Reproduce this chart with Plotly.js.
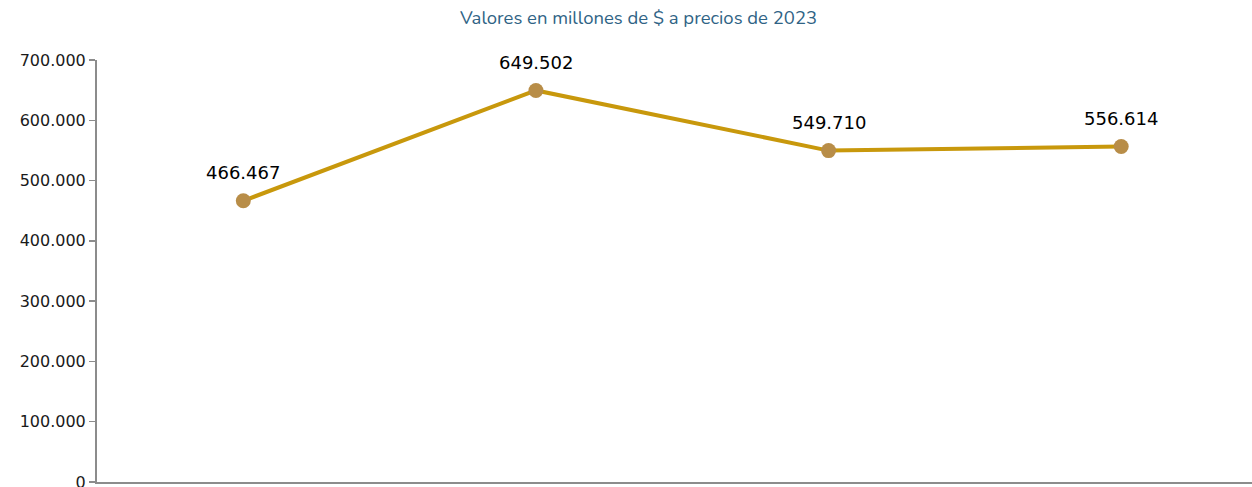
<!DOCTYPE html>
<html>
<head>
<meta charset="utf-8">
<script src="https://cdn.plot.ly/plotly-3.0.1.min.js"></script>
<style>
  html, body { margin: 0; padding: 0; background: #fff; }
  #chart { width: 1252px; height: 487px; }
</style>
</head>
<body>
<div id="chart"></div>
<script>
// categories are not legible in the reference (cut off below the axis)
const periods = ['P1', 'P2', 'P3', 'P4'];
const valores = [466467, 649502, 549710, 556614];
const etiquetas = ['466.467', '649.502', '549.710', '556.614'];

const lineTrace = {
    x: periods,
    y: valores,
    type: 'scatter',
    mode: 'lines+markers',
    line: { color: '#c8980c', width: 4 },
    marker: { color: '#b88d48', size: 15 },
    hoverinfo: 'skip',
};

// data labels above each point
const labelAnnotations = periods.map((p, i) => ({
    x: p,
    y: valores[i],
    text: etiquetas[i],
    showarrow: false,
    yshift: 28,
    font: { family: 'DejaVu Sans', size: 18, color: '#000' },
}));

const layout = {
    width: 1252,
    height: 487,
    separators: ',.',
    paper_bgcolor: '#fff',
    plot_bgcolor: '#fff',
    showlegend: false,
    title: {
        text: 'Valores en millones de $ a precios de 2023',
        font: { family: 'Nunito, Lato, sans-serif', size: 18.5, color: '#2f6385' },
        x: 0.51,
        xanchor: 'center',
        y: 0.963,
        yanchor: 'middle',
    },
    margin: { t: 60, b: 5, l: 97, r: 0 },
    xaxis: {
        type: 'category',
        range: [-0.5, 3.447],
        showticklabels: false,
        ticks: '',
        showgrid: false,
        zeroline: false,
        showline: true,
        linecolor: '#8c8c8c',
        linewidth: 2,
    },
    yaxis: {
        range: [0, 700000],
        tickvals: [0, 100000, 200000, 300000, 400000, 500000, 600000, 700000],
        tickformat: ',d',
        showgrid: false,
        zeroline: false,
        showline: true,
        linecolor: '#8c8c8c',
        linewidth: 2,
        ticks: 'outside',
        ticklen: 6,
        tickwidth: 1.5,
        tickcolor: '#8c8c8c',
        ticklabeloverflow: 'allow',
        tickfont: { family: 'DejaVu Sans', size: 16, color: '#1a1a1a' },
    },
    annotations: labelAnnotations,
};

Plotly.newPlot('chart', [lineTrace], layout, { displayModeBar: false, staticPlot: true });
</script>
</body>
</html>
